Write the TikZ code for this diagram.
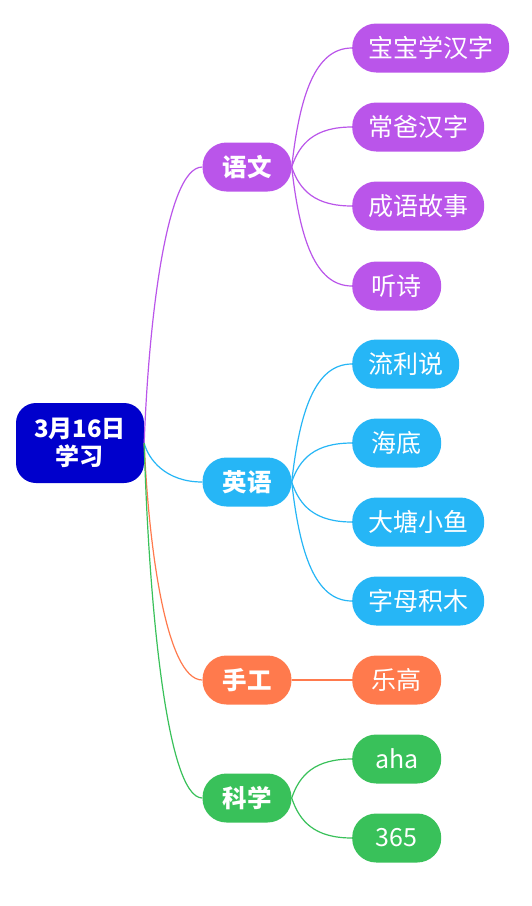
\documentclass[tikz,border=0pt]{standalone}
\usepackage{fontspec}
\setmainfont{Noto Sans CJK SC}
\usetikzlibrary{calc}
\definecolor{cpur}{RGB}{186,85,234}
\definecolor{cblu}{RGB}{38,182,246}
\definecolor{cora}{RGB}{255,122,77}
\definecolor{cgrn}{RGB}{57,193,90}
\definecolor{croot}{RGB}{0,0,204}
\begin{document}
\begin{tikzpicture}[x=1pt,y=-1pt,
  pill/.style={fill=#1, text=white, rounded corners=24pt, minimum height=49pt, minimum width=89pt, inner xsep=16pt, inner ysep=0pt, font=\fontsize{25}{28}\selectfont},
  lone/.style={pill=#1, font=\fontsize{24.5}{28}\selectfont\bfseries},
  ltwo/.style={pill=#1, anchor=west},
  rc/.style={to path={let \p1=(\tikztostart), \p2=(\tikztotarget) in .. controls ({\x1+4pt},{\y1+0.41*(\y2-\y1)}) and ({\x2-37pt},\y2) .. (\tikztotarget)}},
  bc/.style={to path={let \p1=(\tikztostart), \p2=(\tikztotarget) in .. controls ({\x1+8pt},{\y1+0.6*(\y2-\y1)}) and ({\x2-37pt},\y2) .. (\tikztotarget)}},
  link/.style={draw=#1, line width=1.2pt}
]
\useasboundingbox[fill=white] (0,0) rectangle (531,906);
% root
\node[fill=croot, text=white, rounded corners=20pt, minimum width=128pt, minimum height=80pt, align=center, inner sep=0pt, font=\fontsize{24}{28}\selectfont\bfseries] (root) at (80,443) {3月16日\\学习};
% level 1
\node[lone=cpur] (yw) at (247,167) {语文};
\node[lone=cblu] (yy) at (247,482) {英语};
\node[lone=cora] (sg) at (247,680) {手工};
\node[lone=cgrn] (kx) at (247,798) {科学};
% level 2
\node[ltwo=cpur] (a1) at (352,48) {宝宝学汉字};
\node[ltwo=cpur] (a2) at (352,127) {常爸汉字};
\node[ltwo=cpur] (a3) at (352,206) {成语故事};
\node[ltwo=cpur] (a4) at (352,286) {听诗};
\node[ltwo=cblu] (b1) at (352,364) {流利说};
\node[ltwo=cblu] (b2) at (352,443) {海底};
\node[ltwo=cblu] (b3) at (352,522) {大塘小鱼};
\node[ltwo=cblu] (b4) at (352,601) {字母积木};
\node[ltwo=cora] (c1) at (352,680) {乐高};
\node[ltwo=cgrn] (d1) at (352,759) {aha};
\node[ltwo=cgrn] (d2) at (352,838) {365};
% connectors root -> level 1
\draw[link=cpur] (root.east) to[rc] (yw.west);
\draw[link=cblu] (root.east) to[rc] (yy.west);
\draw[link=cora] (root.east) to[rc] (sg.west);
\draw[link=cgrn] (root.east) to[rc] (kx.west);
% level 1 -> level 2
\foreach \t in {a1,a2,a3,a4} \draw[link=cpur] (yw.east) to[bc] (\t.west);
\foreach \t in {b1,b2,b3,b4} \draw[link=cblu] (yy.east) to[bc] (\t.west);
\draw[link=cora] (sg.east) -- (c1.west);
\foreach \t in {d1,d2} \draw[link=cgrn] (kx.east) to[bc] (\t.west);
\end{tikzpicture}
\end{document}
